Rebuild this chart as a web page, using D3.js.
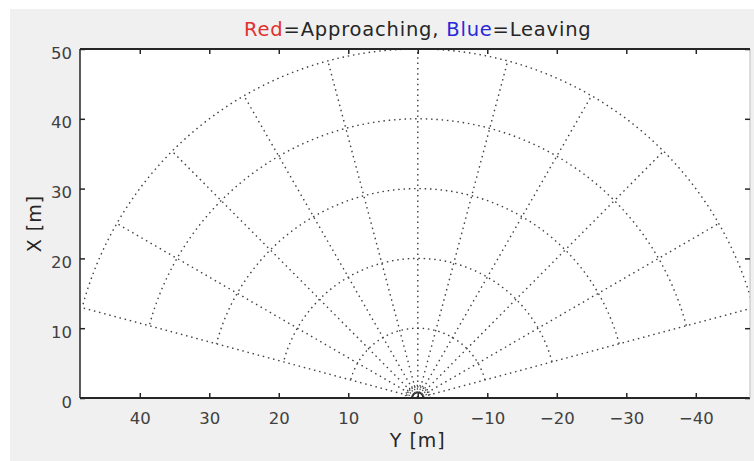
<!DOCTYPE html>
<html>
<head>
<meta charset="utf-8">
<script src="https://cdn.jsdelivr.net/npm/d3@7"></script>
<style>
  html, body { margin: 0; padding: 0; background: #ffffff; }
  svg { display: block; }
</style>
</head>
<body>
<svg id="chart" width="754" height="461"></svg>
<script>
// Range rings (m), close-in rings around the sensor (m) and bearing spokes (deg)
const ranges = [10, 20, 30, 40, 50];
const nearRanges = [1.3, 1.8];
const sensorRadius = [0.75];
const bearings = [-75, -60, -45, -30, -15, 0, 15, 30, 45, 60, 75];
const maxRange = 50;
const arcSpan = [-75, 75];

// Axis ticks
const yTicks = [40, 30, 20, 10, 0, -10, -20, -30, -40];
const xTicks = [0, 10, 20, 30, 40, 50];

// Title pieces
const titleParts = [
  { text: "Red", color: "#e0312f" },
  { text: "=Approaching, ", color: "#262626" },
  { text: "Blue", color: "#2828d8" },
  { text: "=Leaving", color: "#262626" }
];

const svg = d3.select("#chart");
const W = 754, H = 461;
const box = { left: 80, right: 750, top: 49, bottom: 398 };
const font = "'DejaVu Sans', Verdana, sans-serif";

// figure background
svg.append("rect").attr("x", 0).attr("y", 0).attr("width", W).attr("height", H).attr("fill", "#ffffff");
svg.append("rect").attr("x", 10).attr("y", 9).attr("width", W - 10).attr("height", H - 9).attr("fill", "#f0f0f0");

// lateral offset Y runs right-to-left, forward distance X runs bottom-to-top
const sx = d3.scaleLinear().domain([48.6, -47.8]).range([box.left, box.right]);
const sy = d3.scaleLinear().domain([0, 50]).range([box.bottom, box.top]);

svg.append("rect")
  .attr("x", box.left).attr("y", box.top)
  .attr("width", box.right - box.left).attr("height", box.bottom - box.top)
  .attr("fill", "#ffffff");

svg.append("clipPath").attr("id", "plotclip")
  .append("rect")
  .attr("x", box.left).attr("y", box.top)
  .attr("width", box.right - box.left).attr("height", box.bottom - box.top);

const plot = svg.append("g").attr("clip-path", "url(#plotclip)");

const rad = d => d * Math.PI / 180;
const polar = (r, deg) => [r * Math.sin(rad(deg)), r * Math.cos(rad(deg))];
const line = d3.line().x(p => sx(p[0])).y(p => sy(p[1]));

function arcPoints(r, a0, a1) {
  const n = 180;
  return d3.range(n + 1).map(i => polar(r, a0 + (a1 - a0) * i / n));
}

const gridStyle = sel => sel
  .attr("fill", "none")
  .attr("stroke", "#404040")
  .attr("stroke-width", 1.4)
  .attr("stroke-dasharray", "1.5,3.8")
  .attr("stroke-linecap", "butt");

// range rings
plot.selectAll("path.ring").data(ranges).join("path")
  .attr("class", "ring")
  .attr("d", r => line(arcPoints(r, arcSpan[0], arcSpan[1])))
  .call(gridStyle);

// close-in rings
plot.selectAll("path.near").data(nearRanges).join("path")
  .attr("class", "near")
  .attr("d", r => line(arcPoints(r, -90, 90)))
  .call(gridStyle)
  .attr("stroke-dasharray", "1.2,1.6");

// bearing spokes
plot.selectAll("path.spoke").data(bearings).join("path")
  .attr("class", "spoke")
  .attr("d", b => line([polar(0, b), polar(maxRange, b)]))
  .call(gridStyle);

// sensor position
plot.selectAll("path.sensor").data(sensorRadius).join("path")
  .attr("class", "sensor")
  .attr("d", r => line(arcPoints(r, -180, 180)))
  .attr("fill", "none")
  .attr("stroke", "#222")
  .attr("stroke-width", 1.2);

// axes box
const axisColor = "#262626";
const frame = svg.append("g");
frame.append("line").attr("x1", box.left).attr("x2", box.right).attr("y1", box.bottom).attr("y2", box.bottom)
  .attr("stroke", axisColor).attr("stroke-width", 2);
frame.append("line").attr("x1", box.left).attr("x2", box.right).attr("y1", box.top).attr("y2", box.top)
  .attr("stroke", axisColor).attr("stroke-width", 2);
frame.append("line").attr("x1", box.left).attr("x2", box.left).attr("y1", box.top).attr("y2", box.bottom)
  .attr("stroke", axisColor).attr("stroke-width", 1.5);
frame.append("line").attr("x1", box.right).attr("x2", box.right).attr("y1", box.top).attr("y2", box.bottom)
  .attr("stroke", "#bdbdbd").attr("stroke-width", 1);

const fmt = d => d3.format("d")(d);

// bottom axis (inward ticks) and mirrored top ticks
const bottomAxis = d3.axisBottom(sx).tickValues(yTicks).tickSize(-5).tickSizeOuter(0).tickPadding(14).tickFormat(fmt);
const gb = svg.append("g").attr("transform", `translate(0,${box.bottom})`).call(bottomAxis);
const topAxis = d3.axisTop(sx).tickValues(yTicks).tickSize(-5).tickSizeOuter(0).tickFormat("");
const gt = svg.append("g").attr("transform", `translate(0,${box.top})`).call(topAxis);

// left axis and mirrored right ticks
const leftAxis = d3.axisLeft(sy).tickValues(xTicks).tickSize(-5).tickSizeOuter(0).tickPadding(8).tickFormat(fmt);
const gl = svg.append("g").attr("transform", `translate(${box.left},0)`).call(leftAxis);
const rightAxis = d3.axisRight(sy).tickValues(xTicks).tickSize(-5).tickSizeOuter(0).tickFormat("");
const gr = svg.append("g").attr("transform", `translate(${box.right},0)`).call(rightAxis);

[gb, gt, gl, gr].forEach(g => {
  g.select(".domain").remove();
  g.selectAll(".tick line").attr("stroke", axisColor).attr("stroke-width", 1.5);
  g.selectAll(".tick text")
    .attr("fill", "#404040")
    .style("font-family", font)
    .style("font-size", "16.5px");
});
gl.selectAll(".tick text").attr("dy", "0.55em");

// axis labels
svg.append("text")
  .attr("x", sx(0)).attr("y", 447)
  .attr("text-anchor", "middle")
  .attr("fill", "#262626")
  .style("font-family", font)
  .style("font-size", "19px")
  .style("letter-spacing", "1px")
  .text("Y [m]");

svg.append("text")
  .attr("transform", `translate(41,${(box.top + box.bottom) / 2}) rotate(-90)`)
  .attr("text-anchor", "middle")
  .attr("fill", "#262626")
  .style("font-family", font)
  .style("font-size", "19px")
  .style("letter-spacing", "1px")
  .text("X [m]");

// title
const title = svg.append("text")
  .attr("x", sx(0)).attr("y", 36)
  .attr("text-anchor", "middle")
  .style("font-family", font)
  .style("font-size", "19.5px")
  .style("letter-spacing", "0.8px");
title.selectAll("tspan").data(titleParts).join("tspan")
  .attr("fill", d => d.color)
  .text(d => d.text);
</script>
</body>
</html>
